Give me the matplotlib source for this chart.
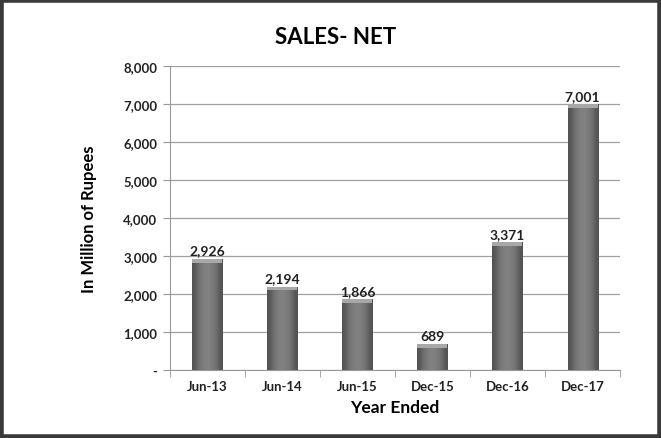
import numpy as np
import matplotlib.pyplot as plt
from matplotlib.patches import Rectangle

# net sales per period (million rupees)
periods = ["Jun-13", "Jun-14", "Jun-15", "Dec-15", "Dec-16", "Dec-17"]
sales = [2926, 2194, 1866, 689, 3371, 7001]
yticks = [0, 1000, 2000, 3000, 4000, 5000, 6000, 7000, 8000]
ytick_labels = ["-", "1,000", "2,000", "3,000", "4,000", "5,000", "6,000", "7,000", "8,000"]

plt.rcParams['font.family'] = ['Lato', 'DejaVu Sans']

fig = plt.figure(figsize=(6.61, 4.39), dpi=100)
ax = fig.add_axes([0.257, 0.155, 0.681, 0.692])

x = np.arange(len(periods))
bars = ax.bar(x, sales, width=0.4, color="#737373", zorder=3)

# horizontal shading on each bar: darker sides, lighter middle
shade = np.array([[0.32, 0.44, 0.49, 0.51, 0.49, 0.44, 0.32]])
for b, v in zip(bars, sales):
    x0 = b.get_x()
    w = b.get_width()
    im = ax.imshow(shade, cmap="gray", vmin=0, vmax=1, aspect="auto",
                   extent=(x0, x0 + w, 0, v), zorder=4, interpolation="bicubic")
    im.set_clip_path(b)
    # light cap on top of the bar
    ax.add_patch(Rectangle((x0, v - 100), w, 100, color="#a8a8a8", zorder=5, lw=0))
    ax.text(x0 + w / 2, v + 60, f"{v:,}", ha="center", va="bottom",
            fontsize=10, fontweight="bold", color="#222222", zorder=6)

ax.set_xlim(-0.5, len(periods) - 0.5)
ax.set_ylim(0, 8000)
ax.set_yticks(yticks)
ax.set_yticklabels(ytick_labels, fontsize=9.5, fontweight="bold", color="#222222")
ax.set_xticks(x)
ax.set_xticklabels(periods, fontsize=9.5, fontweight="bold", color="#222222")
ax.tick_params(axis="x", length=0, pad=7)
ax.tick_params(axis="y", length=5, color="#999999", pad=4)
ax.set_xticks(np.arange(-0.5, len(periods)), minor=True)
ax.tick_params(axis="x", which="minor", length=5, color="#999999")

ax.grid(axis="y", color="#a0a0a0", linewidth=0.9, zorder=0)
for s in ["top", "right"]:
    ax.spines[s].set_visible(False)
ax.spines["left"].set_color("#999999")
ax.spines["bottom"].set_color("#999999")

ax.set_xlabel("Year Ended", fontsize=12.5, fontweight="bold", labelpad=5)
ax.set_ylabel("In Million of Rupees", fontsize=12, fontweight="bold", labelpad=19)
fig.text(0.508, 0.915, "SALES- NET", ha="center", va="center",
         fontsize=16, fontweight="bold")

# dark frame round the chart
fig.add_artist(Rectangle((0.002, 0.003), 0.996, 0.994, transform=fig.transFigure,
                         fill=False, edgecolor="#3a3a3a", linewidth=4))

fig.savefig("out.png", dpi=100)
